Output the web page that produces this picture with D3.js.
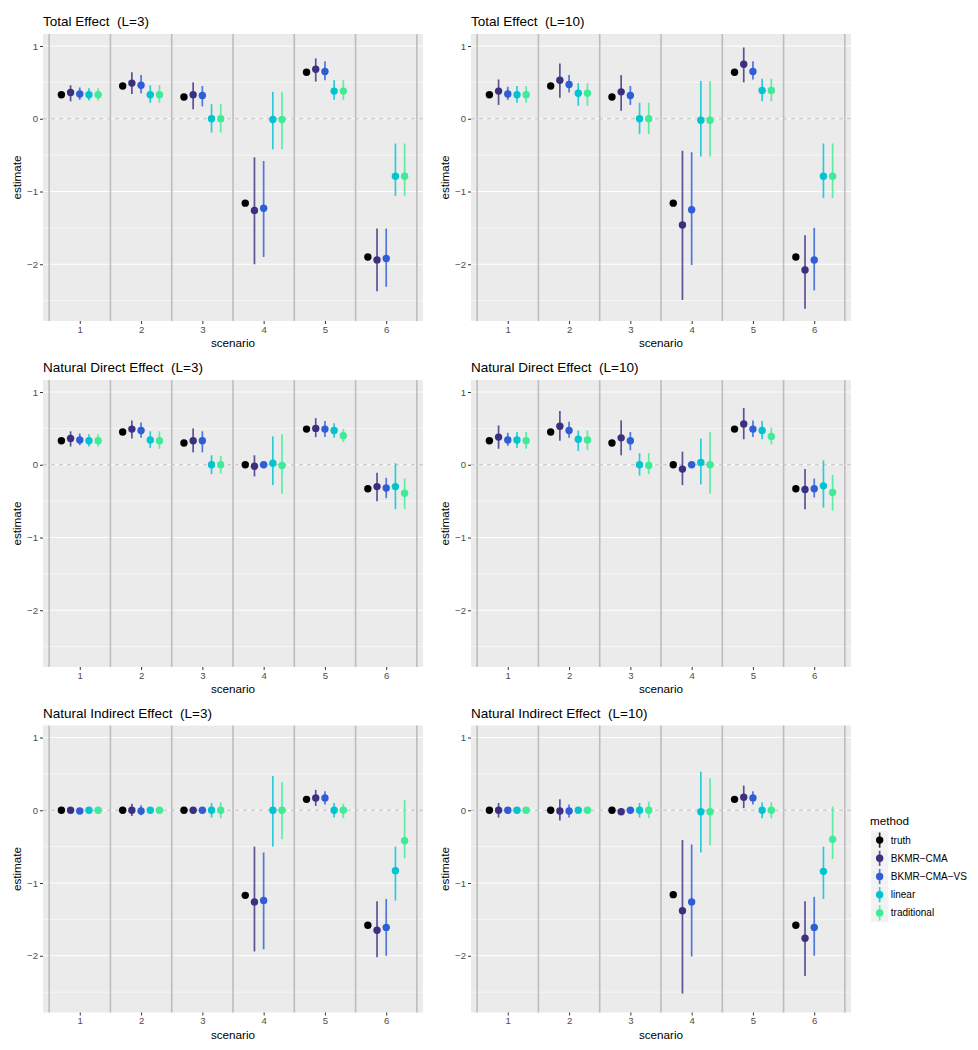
<!DOCTYPE html>
<html>
<head>
<meta charset="utf-8">
<script src="https://cdn.jsdelivr.net/npm/d3@7"></script>
<style>
  body { margin: 0; background: #fff; }
  svg { display: block; font-family: "Liberation Sans", Arial, sans-serif; }
</style>
</head>
<body>
<svg id="chart" width="978" height="1050"></svg>
<script>
// ---------------- DATA ----------------
const scenarios = [1, 2, 3, 4, 5, 6];
const methods = ["truth", "BKMR\u2212CMA", "BKMR\u2212CMA\u2212VS", "linear", "traditional"];
const methodColors = ["#000000", "#3b2f80", "#2f5dd6", "#00c4cf", "#3eeb96"];
const yTicks = [-2, -1, 0, 1];
const yMinorTicks = [-2.5, -1.5, -0.5, 0.5];
const panelTitles = ["Total Effect  (L=3)", "Total Effect  (L=10)",
                     "Natural Direct Effect  (L=3)", "Natural Direct Effect  (L=10)",
                     "Natural Indirect Effect  (L=3)", "Natural Indirect Effect  (L=10)"];

// rows: methods (truth, BKMR-CMA, BKMR-CMA-VS, linear, traditional); columns: scenarios 1..6
const TE3_est = [[0.33,0.45,0.30,-1.16,0.64,-1.90],[0.36,0.49,0.33,-1.26,0.68,-1.94],[0.34,0.46,0.32,-1.23,0.65,-1.92],[0.33,0.33,0.00,-0.01,0.38,-0.79],[0.33,0.33,0.00,-0.01,0.38,-0.79]];
const TE3_lo  = [[0.33,0.45,0.30,-1.16,0.64,-1.90],[0.24,0.34,0.13,-2.00,0.51,-2.37],[0.26,0.35,0.17,-1.90,0.53,-2.31],[0.25,0.22,-0.19,-0.42,0.26,-1.06],[0.25,0.22,-0.19,-0.42,0.26,-1.06]];
const TE3_hi  = [[0.33,0.45,0.30,-1.16,0.64,-1.90],[0.46,0.64,0.50,-0.53,0.83,-1.51],[0.43,0.60,0.45,-0.58,0.79,-1.51],[0.42,0.46,0.20,0.37,0.53,-0.34],[0.42,0.46,0.20,0.37,0.53,-0.34]];

const TE10_est = [[0.33,0.45,0.30,-1.16,0.64,-1.90],[0.38,0.53,0.37,-1.46,0.75,-2.08],[0.34,0.47,0.32,-1.25,0.65,-1.94],[0.33,0.35,0.00,-0.02,0.39,-0.79],[0.33,0.35,0.00,-0.02,0.39,-0.79]];
const TE10_lo  = [[0.33,0.45,0.30,-1.16,0.64,-1.90],[0.19,0.29,0.11,-2.49,0.50,-2.61],[0.26,0.36,0.19,-2.01,0.54,-2.36],[0.22,0.18,-0.21,-0.52,0.24,-1.09],[0.22,0.18,-0.21,-0.52,0.24,-1.09]];
const TE10_hi  = [[0.33,0.45,0.30,-1.16,0.64,-1.90],[0.54,0.76,0.60,-0.44,0.98,-1.60],[0.44,0.60,0.45,-0.46,0.79,-1.50],[0.45,0.49,0.22,0.52,0.55,-0.34],[0.45,0.49,0.22,0.52,0.55,-0.34]];

const NDE3_est = [[0.33,0.45,0.30,0.00,0.49,-0.33],[0.36,0.49,0.33,-0.02,0.50,-0.30],[0.34,0.47,0.33,0.00,0.49,-0.32],[0.33,0.34,0.00,0.02,0.47,-0.30],[0.33,0.33,0.00,-0.01,0.40,-0.39]];
const NDE3_lo  = [[0.33,0.45,0.30,0.00,0.49,-0.33],[0.25,0.36,0.17,-0.16,0.38,-0.50],[0.27,0.37,0.17,-0.03,0.38,-0.46],[0.25,0.23,-0.13,-0.28,0.37,-0.61],[0.25,0.22,-0.12,-0.40,0.31,-0.61]];
const NDE3_hi  = [[0.33,0.45,0.30,0.00,0.49,-0.33],[0.46,0.61,0.50,0.13,0.64,-0.11],[0.43,0.58,0.46,0.03,0.60,-0.18],[0.42,0.46,0.13,0.39,0.57,0.02],[0.42,0.46,0.12,0.42,0.49,-0.19]];

const NDE10_est = [[0.33,0.45,0.30,0.00,0.49,-0.33],[0.38,0.53,0.37,-0.06,0.56,-0.34],[0.34,0.47,0.33,0.00,0.49,-0.33],[0.34,0.35,0.00,0.03,0.47,-0.29],[0.33,0.34,-0.01,0.00,0.39,-0.38]];
const NDE10_lo  = [[0.33,0.45,0.30,0.00,0.49,-0.33],[0.22,0.33,0.13,-0.28,0.35,-0.61],[0.26,0.37,0.20,-0.03,0.38,-0.45],[0.23,0.19,-0.15,-0.27,0.35,-0.59],[0.22,0.20,-0.13,-0.40,0.28,-0.63]];
const NDE10_hi  = [[0.33,0.45,0.30,0.00,0.49,-0.33],[0.54,0.74,0.61,0.18,0.78,-0.06],[0.44,0.59,0.45,0.03,0.61,-0.19],[0.45,0.47,0.16,0.36,0.60,0.06],[0.45,0.47,0.16,0.45,0.51,-0.14]];

const NIE3_est = [[0.00,0.00,0.00,-1.17,0.15,-1.58],[0.00,0.00,0.00,-1.26,0.17,-1.65],[-0.01,-0.01,0.00,-1.24,0.17,-1.61],[0.00,0.00,0.00,0.00,0.00,-0.83],[0.00,0.00,0.00,0.00,0.00,-0.42]];
const NIE3_lo  = [[0.00,0.00,0.00,-1.17,0.15,-1.58],[-0.02,-0.08,-0.05,-1.94,0.06,-2.02],[-0.02,-0.07,-0.02,-1.91,0.08,-2.00],[-0.01,-0.01,-0.10,-0.50,-0.10,-1.24],[-0.01,-0.01,-0.11,-0.40,-0.11,-0.66]];
const NIE3_hi  = [[0.00,0.00,0.00,-1.17,0.15,-1.58],[0.02,0.09,0.04,-0.50,0.28,-1.25],[0.01,0.07,0.02,-0.58,0.26,-1.22],[0.01,0.01,0.10,0.47,0.10,-0.50],[0.01,0.01,0.11,0.39,0.09,0.14]];

const NIE10_est = [[0.00,0.00,0.00,-1.16,0.15,-1.58],[0.00,-0.01,-0.02,-1.38,0.18,-1.76],[0.00,-0.01,0.00,-1.26,0.17,-1.61],[0.00,0.00,0.00,-0.02,0.00,-0.84],[0.00,0.00,0.00,-0.02,0.00,-0.40]];
const NIE10_lo  = [[0.00,0.00,0.00,-1.16,0.15,-1.58],[-0.10,-0.14,-0.05,-2.52,0.03,-2.28],[-0.02,-0.10,-0.02,-2.01,0.08,-2.00],[-0.01,-0.01,-0.10,-0.58,-0.11,-1.22],[-0.01,-0.01,-0.11,-0.48,-0.11,-0.67]];
const NIE10_hi  = [[0.00,0.00,0.00,-1.16,0.15,-1.58],[0.10,0.15,0.03,-0.41,0.34,-1.25],[0.02,0.08,0.02,-0.47,0.26,-1.19],[0.01,0.01,0.10,0.53,0.11,-0.50],[0.01,0.01,0.12,0.44,0.11,0.05]];

const panelData = [
  [TE3_est, TE3_lo, TE3_hi], [TE10_est, TE10_lo, TE10_hi],
  [NDE3_est, NDE3_lo, NDE3_hi], [NDE10_est, NDE10_lo, NDE10_hi],
  [NIE3_est, NIE3_lo, NIE3_hi], [NIE10_est, NIE10_lo, NIE10_hi]
];

// ---------------- LAYOUT ----------------
const svg = d3.select("#chart");
const colLeft = [43, 471];
const rowTop = [34, 380, 725.5];
const panelW = 380, panelH = 287;

const dodge = d3.scalePoint().domain(methods).range([-0.3, 0.3]);
const colorScale = d3.scaleOrdinal().domain(methods).range(methodColors);
const fmt = d => d < 0 ? "\u2212" + Math.abs(d) : String(d);

panelData.forEach((pd, i) => {
  const col = i % 2, row = Math.floor(i / 2);
  const x0 = colLeft[col], y0 = rowTop[row];
  const x = d3.scaleLinear().domain([0.4, 6.6]).range([x0, x0 + panelW]);
  const y = d3.scaleLinear().domain([-2.78, 1.165]).range([y0 + panelH, y0]);
  const g = svg.append("g");

  // panel background
  g.append("rect").attr("x", x0).attr("y", y0).attr("width", panelW).attr("height", panelH).attr("fill", "#ebebeb");

  // minor grid
  g.selectAll(".minor").data(yMinorTicks).enter().append("line")
    .attr("x1", x0).attr("x2", x0 + panelW).attr("y1", d => y(d)).attr("y2", d => y(d))
    .attr("stroke", "#ffffff").attr("stroke-width", 0.6);
  // major grid
  g.selectAll(".major").data(yTicks).enter().append("line")
    .attr("x1", x0).attr("x2", x0 + panelW).attr("y1", d => y(d)).attr("y2", d => y(d))
    .attr("stroke", "#ffffff").attr("stroke-width", 1.2);

  // separator vlines at 0.5 ... 6.5
  const seps = d3.range(0.5, 7, 1);
  g.selectAll(".sep").data(seps).enter().append("line")
    .attr("x1", d => x(d)).attr("x2", d => x(d)).attr("y1", y0).attr("y2", y0 + panelH)
    .attr("stroke", "#bdbdbd").attr("stroke-width", 1.6);

  // dashed zero line
  g.append("line").attr("x1", x0).attr("x2", x0 + panelW).attr("y1", y(0)).attr("y2", y(0))
    .attr("stroke", "#bebebe").attr("stroke-width", 1).attr("stroke-dasharray", "4,4");

  // marks
  const [est, lo, hi] = pd;
  const pts = [];
  methods.forEach((m, mi) => scenarios.forEach((s, si) => {
    pts.push({ m, s, v: est[mi][si], lo: lo[mi][si], hi: hi[mi][si] });
  }));
  g.selectAll(".bar").data(pts.filter(d => d.hi > d.lo)).enter().append("line")
    .attr("x1", d => x(d.s + dodge(d.m))).attr("x2", d => x(d.s + dodge(d.m)))
    .attr("y1", d => y(d.lo)).attr("y2", d => y(d.hi))
    .attr("stroke", d => colorScale(d.m)).attr("stroke-opacity", 0.82).attr("stroke-width", 1.7);
  g.selectAll(".pt").data(pts).enter().append("circle")
    .attr("cx", d => x(d.s + dodge(d.m))).attr("cy", d => y(d.v)).attr("r", 3.7)
    .attr("fill", d => colorScale(d.m));

  // axes
  const yAxis = d3.axisLeft(y).tickValues(yTicks).tickSize(3).tickPadding(2).tickFormat(fmt);
  const ya = svg.append("g").attr("transform", `translate(${x0},0)`).call(yAxis);
  const xAxis = d3.axisBottom(x).tickValues(scenarios).tickSize(3).tickPadding(2).tickFormat(d3.format("d"));
  const xa = svg.append("g").attr("transform", `translate(0,${y0 + panelH})`).call(xAxis);
  [ya, xa].forEach(a => {
    a.select(".domain").remove();
    a.selectAll(".tick line").attr("stroke", "#333333").attr("stroke-width", 1);
    a.selectAll(".tick text").attr("fill", "#4d4d4d").style("font-size", "9.6px")
      .style("font-family", "'Liberation Sans', Arial, sans-serif");
  });

  // axis titles
  svg.append("text").attr("x", x0 + panelW / 2).attr("y", y0 + panelH + 26)
    .attr("text-anchor", "middle").style("font-size", "11.7px").attr("fill", "#000").text("scenario");
  svg.append("text").attr("transform", `translate(${x0 - 22},${y0 + panelH / 2}) rotate(-90)`)
    .attr("text-anchor", "middle").style("font-size", "11.7px").attr("fill", "#000").text("estimate");

  // panel title
  svg.append("text").attr("x", x0).attr("y", y0 - 8)
    .style("font-size", "13.5px").style("white-space", "pre").attr("xml:space", "preserve")
    .attr("fill", "#000").text(panelTitles[i]);
});

// ---------------- LEGEND ----------------
const lg = svg.append("g");
const lx = 871, ly = 831, keyH = 18.2, keyW = 17.3;
lg.append("text").attr("x", 870).attr("y", 825).style("font-size", "11.7px").text("method");
methods.forEach((m, i) => {
  const cy = ly + i * keyH + keyH / 2;
  lg.append("rect").attr("x", lx).attr("y", ly + i * keyH).attr("width", keyW).attr("height", keyH).attr("fill", "#f2f2f2");
  lg.append("line").attr("x1", lx + keyW / 2).attr("x2", lx + keyW / 2).attr("y1", ly + i * keyH + 1.5).attr("y2", ly + (i + 1) * keyH - 1.5)
    .attr("stroke", colorScale(m)).attr("stroke-opacity", 0.82).attr("stroke-width", 1.7);
  lg.append("circle").attr("cx", lx + keyW / 2).attr("cy", cy).attr("r", 3.7).attr("fill", colorScale(m));
  lg.append("text").attr("x", lx + keyW + 2.5).attr("y", cy + 3.5).style("font-size", "10px").attr("fill", "#000").text(m);
});
</script>
</body>
</html>
